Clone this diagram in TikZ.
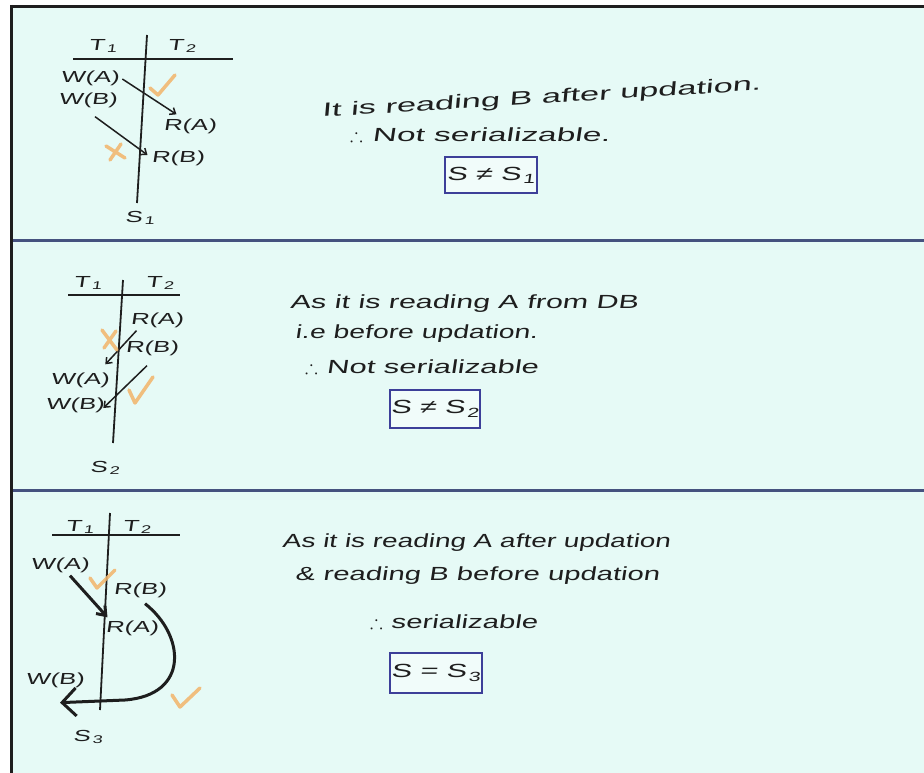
\documentclass[tikz,border=0pt]{standalone}
\usepackage{amssymb}
\usepackage{fontspec}
\usetikzlibrary{arrows.meta}
\usepackage{xcolor}
\newfontfamily\handfont[FakeStretch=1.6, FakeSlant=0.15]{Liberation Sans}
\newcommand\lowidx[1]{\kern2pt\textsubscript{#1}}
\definecolor{pgbg}{HTML}{E6FAF6}
\definecolor{pgrule}{HTML}{45527F}
\definecolor{pgbox}{HTML}{3D3F99}
\definecolor{pgtick}{HTML}{F2B46A}
\definecolor{pgink}{HTML}{1E1E1E}
\tikzset{
  note/.style={anchor=base west, inner sep=0pt, text=pgink,
               font=\handfont\fontsize{19}{22}\selectfont\addfontfeature{FakeStretch=#1}},
  note/.default=1.6,
  lbl/.style={inner sep=1pt, text=pgink, font=\handfont\fontsize{16}{18}\selectfont},
  result/.style={draw=pgbox, line width=2.5pt, fill=white!45!pgbg, text=pgink,
                 font=\handfont\fontsize{19}{22}\selectfont, inner sep=0pt},
  tline/.style={draw=pgink, line width=1.8pt},
  ink/.style={draw=pgink, line width=1.5pt, -{Straight Barb[length=5pt,width=8pt]}},
  okmark/.style={draw=pgtick, line width=3.5pt, line cap=round, line join=round, opacity=0.85},
}

\begin{document}
\begin{tikzpicture}[x=1pt, y=-1pt]
  \useasboundingbox (0,0) rectangle (924,773);
  \fill[white] (0,0) rectangle (924,773);
  \fill[pgbg] (12,7) rectangle (924,773);
  \draw[pgink, line width=3pt] (10,6.5) -- (924,6.5);
  \draw[pgink, line width=3.5pt] (11.5,5) -- (11.5,773);
  \draw[pgrule, line width=3pt] (13,240) -- (924,240);
  \draw[pgrule, line width=3pt] (13,490) -- (924,490);

  % schedule S1
  \draw[tline] (73,59) -- (233,59);
  \draw[tline] (147,35) -- (137,203);
  \node[lbl] (t11) at (103,46) {T\lowidx{1}};
  \node[lbl] (t12) at (182,46) {T\lowidx{2}};
  \node[lbl] (wa1) at (90,78) {W(A)};
  \node[lbl] (wb1) at (88,100) {W(B)};
  \node[lbl] (ra1) at (190,126) {R(A)};
  \node[lbl] (rb1) at (178,158) {R(B)};
  \node[lbl] (s1) at (140,218) {S\lowidx{1}};
  \draw[ink] ([shift={(2,1)}]wa1.east) -- ([shift={(14,-3)}]ra1.north west);
  \draw[ink] ([shift={(7,8)}]wb1.south) -- ([shift={(-3,-3)}]rb1.west);
  \draw[okmark] (150,88) -- (158,95) -- (175,75);
  \draw[okmark] (106,146) -- (125,158) (110,160) -- (121,144);

  \node[note=1.81, rotate=3.5] (n11) at (322,117) {It is reading B after updation.};
  \node[note=1.76] (n12) at (350,142) {$\therefore$ Not serializable.};
  \node[result, minimum width=92pt, minimum height=36pt] (r1) at (491,175) {S ≠ S\lowidx{1}};

  % schedule S2
  \draw[tline] (68,295) -- (180,295);
  \draw[tline] (123,280) -- (113,443);
  \node[lbl] (t21) at (88,283) {T\lowidx{1}};
  \node[lbl] (t22) at (160,283) {T\lowidx{2}};
  \node[lbl] (ra2) at (157,320) {R(A)};
  \node[lbl] (rb2) at (152,348) {R(B)};
  \node[lbl] (wa2) at (80,380) {W(A)};
  \node[lbl] (wb2) at (75,405) {W(B)};
  \node[lbl] (s2) at (105,468) {S\lowidx{2}};
  \draw[ink] ([shift={(7,2)}]ra2.south west) -- ([shift={(-5,-7)}]wa2.north east);
  \draw[ink] ([shift={(-5,9)}]rb2.south) -- ([shift={(-2,3)}]wb2.east);
  \draw[okmark] (102,330) -- (117,350) (104,348) -- (116,331);
  \draw[okmark] (129,390) -- (135,403) -- (153,377);

  \node[note=1.6] (n21) at (290,308) {As it is reading A from DB};
  \node[note=1.49] (n22) at (295,338) {i.e before updation.};
  \node[note=1.63] (n23) at (305,373) {$\therefore$ Not serializable};
  \node[result, minimum width=90pt, minimum height=38pt] (r2) at (435,409) {S ≠ S\lowidx{2}};

  % schedule S3
  \draw[tline] (52,535) -- (180,535);
  \draw[tline] (110,513) -- (100,710);
  \node[lbl] (t31) at (80,527) {T\lowidx{1}};
  \node[lbl] (t32) at (137,527) {T\lowidx{2}};
  \node[lbl] (wa3) at (60,565) {W(A)};
  \node[lbl] (rb3) at (140,590) {R(B)};
  \node[lbl] (ra3) at (132,628) {R(A)};
  \node[lbl] (wb3) at (55,680) {W(B)};
  \node[lbl] (s3) at (88,737) {S\lowidx{3}};
  \draw[pgink, line width=3pt, -{Straight Barb[length=8pt,width=12pt]}]
    ([shift={(10,2)}]wa3.south) -- ([shift={(3,-2)}]ra3.north west);
  \draw[pgink, line width=3pt, -{Straight Barb[length=14pt,width=28pt]}]
    ([shift={(5,5)}]rb3.south) .. controls (185,635) and (190,695) .. (125,700)
    -- ([shift={(5,14)}]wb3.south);
  \draw[okmark] (90,578) -- (97,588) -- (115,570);
  \draw[okmark] (172,695) -- (180,707) -- (200,688);

  \node[note=1.47] (n31) at (282,547) {As it is reading A after updation};
  \node[note=1.54] (n32) at (295,580) {\& reading B before updation};
  \node[note=1.54] (n33) at (370,628) {$\therefore$ serializable};
  \node[result, minimum width=92pt, minimum height=40pt] (r3) at (436,673) {S = S\lowidx{3}};
\end{tikzpicture}
\end{document}
